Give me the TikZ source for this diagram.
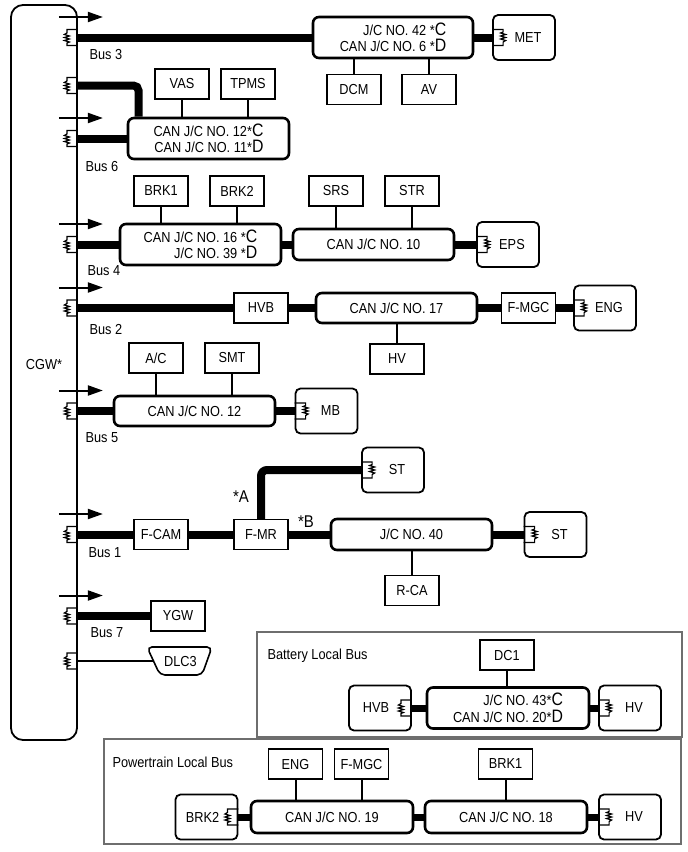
\documentclass[tikz,border=0pt]{standalone}
\usepackage{fontspec}
\setmainfont{Liberation Sans}[FakeStretch=0.88]
\usepackage{xcolor}
\usepackage{tikz}
\usetikzlibrary{arrows.meta}

\definecolor{framegray}{RGB}{110,110,110}
\newcommand{\jcvar}[1]{*{\fontsize{18}{18}\selectfont #1}}

\tikzset{
  ecu/.style={draw,line width=1.5pt,minimum width=54pt,minimum height=30pt,inner sep=0pt},
  jc/.style={draw,line width=2.6pt,rounded corners=6pt,minimum width=161pt,inner sep=0pt,align=right},
  tecu/.style={draw,line width=1.8pt,rounded corners=5pt,minimum width=62pt,minimum height=45pt,inner sep=0pt},
  tecul/.style={tecu,execute at begin node=\hspace*{8pt}},
  tecur/.style={tecu,execute at end node=\hspace*{8pt}},
  bus/.style={line width=8pt},
  lbus/.style={line width=7pt},
  stub/.style={line width=2pt},
  localframe/.style={draw=framegray,line width=1.5pt,inner sep=0pt},
  busarrow/.style={line width=2pt,-{Triangle[length=15pt,width=10pt]}},
  term/.pic={\draw[line width=1.2pt] (0,-8) -- (11,-8) -- (11,-5.5) -- (8.5,-4.5) -- (13.5,-3) -- (8.5,-1.5) -- (13.5,0) -- (8.5,1.5) -- (13.5,3) -- (11,4.5) -- (11,8) -- (0,8);}
}

\begin{document}
\begin{tikzpicture}[x=1pt,y=-1pt,font=\fontsize{14.5}{16.5}\selectfont]
  \useasboundingbox (0,0) rectangle (688,852);
  \node[draw,line width=1.8pt,rounded corners=12pt,minimum width=66pt,minimum height=735pt] (cgw) at (44,372.5) {};
  \node (cgwlabel) at (44,365) {CGW*};

  % bus 3
  \node[jc,minimum width=160pt,minimum height=41pt] (jc42) at (393,37.5) {J/C NO. 42 \jcvar{C}\\CAN J/C NO. 6 \jcvar{D}};
  \node[tecul] (met) at (524,37.5) {MET};
  \node[ecu] (dcm) at (354,89.5) {DCM};
  \node[ecu] (av) at (429,89.5) {AV};
  % bus 6
  \node[jc,minimum height=41pt] (jc12) at (208.5,138.5) {CAN J/C NO. 12\jcvar{C}\\CAN J/C NO. 11\jcvar{D}};
  \node[ecu] (vas) at (182,84) {VAS};
  \node[ecu] (tpms) at (248,84) {TPMS};
  % bus 4
  \node[jc,minimum height=41pt] (jc16) at (200.5,244.5) {CAN J/C NO. 16 \jcvar{C}\\J/C NO. 39 \jcvar{D}};
  \node[jc,minimum height=31pt] (jc10) at (373.5,244.5) {CAN J/C NO. 10};
  \node[tecul] (eps) at (508,244.5) {EPS};
  \node[ecu] (brk1a) at (161,191) {BRK1};
  \node[ecu] (brk2a) at (237,191) {BRK2};
  \node[ecu] (srs) at (336,191) {SRS};
  \node[ecu] (str) at (412,191) {STR};
  % bus 2
  \node[ecu] (hvb) at (261,308) {HVB};
  \node[jc,minimum height=30pt] (jc17) at (396.5,308) {CAN J/C NO. 17};
  \node[ecu] (fmgc) at (528.5,308) {F-MGC};
  \node[tecul] (eng) at (605,308) {ENG};
  \node[ecu] (hv) at (397,359) {HV};
  % bus 5
  \node[ecu] (ac) at (156,358) {A/C};
  \node[ecu] (smt) at (232,358) {SMT};
  \node[jc,minimum height=30pt] (jc12b) at (194.5,411) {CAN J/C NO. 12};
  \node[tecul] (mb) at (326.5,411) {MB};
  % bus 1
  \node[ecu] (fcam) at (161,534.5) {F-CAM};
  \node[ecu] (fmr) at (261,534.5) {F-MR};
  \node[jc,minimum height=31pt] (jc40) at (411.5,534.5) {J/C NO. 40};
  \node[tecul] (st2) at (555.5,534.5) {ST};
  \node[tecul] (st1) at (393,470) {ST};
  \node[ecu] (rca) at (412,590.5) {R-CA};
  \node[font=\fontsize{17}{17}\selectfont] (nota) at (241,497) {*A};
  \node[font=\fontsize{17}{17}\selectfont] (notb) at (306,522) {*B};
  % bus 7 and DLC3
  \node[ecu] (ygw) at (178,616) {YGW};
  \node[minimum width=53pt,inner sep=0pt] (dlc3) at (180.5,661) {DLC3};
  \draw[line width=1.6pt,rounded corners=5pt] (147,647) -- (212,647) -- (202,675) -- (160,675) -- cycle;

  % battery local bus
  \node[localframe,minimum width=425pt,minimum height=105pt] (battframe) at (469.5,684.5) {};
  \node[anchor=west] (battlabel) at (264,656) {Battery Local Bus};
  \node[ecu] (dc1) at (507,655) {DC1};
  \node[jc,minimum width=162pt,minimum height=41pt] (jc43) at (508,708) {J/C NO. 43\jcvar{C}\\CAN J/C NO. 20\jcvar{D}};
  \node[tecur] (hvbl) at (380,708) {HVB};
  \node[tecul] (hvl) at (630,708) {HV};

  % powertrain local bus
  \node[localframe,minimum width=577pt,minimum height=105pt] (ptframe) at (392.5,791.5) {};
  \node[anchor=west] (ptlabel) at (109,762) {Powertrain Local Bus};
  \node[ecu] (engl) at (295.5,764) {ENG};
  \node[ecu] (fmgcl) at (361.5,764) {F-MGC};
  \node[ecu] (brk1l) at (505.5,764) {BRK1};
  \node[jc,minimum width=162pt,minimum height=32pt] (jc19) at (332,817) {CAN J/C NO. 19};
  \node[jc,minimum width=162pt,minimum height=32pt] (jc18) at (506,817) {CAN J/C NO. 18};
  \node[tecur] (brk2l) at (206.5,817) {BRK2};
  \node[tecul] (hvp) at (630,817) {HV};

  % CGW ports
  \foreach \n/\y in {b3/37.5,b6a/85.5,b6/138.5,b4/244.5,b2/308,b5/411,b1/534.5,b7/616,bdlc/661}
    \coordinate (\n) at (cgw.east |- 0,\y);
  \foreach \n in {b3,b6,b4,b2,b5,b1,b7}
    \draw[busarrow] ([xshift=-19pt,yshift=20.5pt]\n) -- ++(44,0);
  \foreach \t/\x/\y in {3/86/55,6/82/167,4/84/271,2/86/330,5/82/438,1/85/553,7/87/633}
    \node[anchor=west] (lbl\t) at (\x,\y) {Bus \t};

  % buses
  \foreach \n/\b in {b3/jc42,b6/jc12,b4/jc16,b2/hvb,b5/jc12b,b1/fcam,b7/ygw}
    \draw[bus] (\n) -- (\b.west);
  \foreach \a/\b in {jc42/met,jc16/jc10,jc10/eps,hvb/jc17,jc17/fmgc,fmgc/eng,jc12b/mb,fcam/fmr,fmr/jc40,jc40/st2}
    \draw[bus] (\a.east) -- (\b.west);
  \draw[bus,rounded corners=5pt] (b6a) -| ([xshift=-70pt]jc12.north);
  \draw[bus,rounded corners=6pt] (fmr.north) |- (st1.west);
  \draw[stub] (bdlc) -- (dlc3.west);
  \foreach \a/\b in {hvbl/jc43,jc43/hvl,brk2l/jc19,jc19/jc18,jc18/hvp}
    \draw[lbus] (\a.east) -- (\b.west);

  % branch lines
  \foreach \e/\j in {vas/jc12,tpms/jc12,brk1a/jc16,brk2a/jc16,srs/jc10,str/jc10,ac/jc12b,smt/jc12b,dc1/jc43,engl/jc19,fmgcl/jc19,brk1l/jc18}
    \draw[stub] (\e.south) -- (\e.south |- \j.north);
  \foreach \e/\j in {dcm/jc42,av/jc42,hv/jc17,rca/jc40}
    \draw[stub] (\e.north) -- (\e.north |- \j.south);

  % terminators
  \foreach \n in {b3,b6a,b6,b4,b2,b5,b1,b7,bdlc}
    \pic[rotate=180] at (\n) {term};
  \foreach \n in {met,eps,eng,mb,st1,st2,hvl,hvp}
    \pic at (\n.west) {term};
  \foreach \n in {hvbl,brk2l}
    \pic[rotate=180] at (\n.east) {term};
\end{tikzpicture}
\end{document}
